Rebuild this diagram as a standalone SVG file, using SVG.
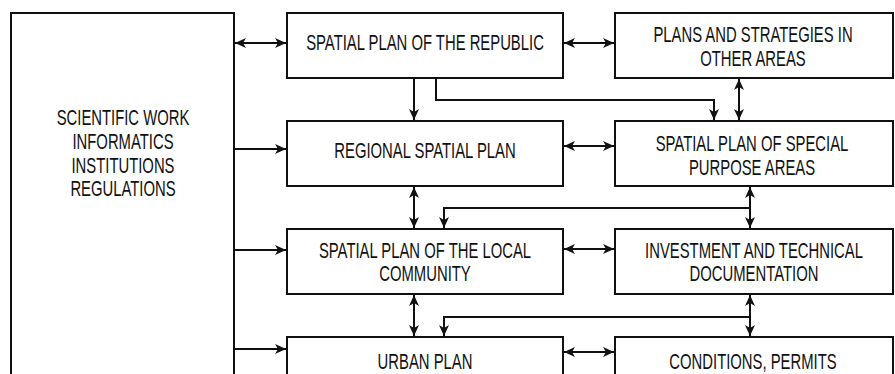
<svg xmlns="http://www.w3.org/2000/svg" width="895" height="374" viewBox="0 0 895 374">
<style>
.box{fill:#fff;stroke:#111;stroke-width:2}
.t{font-family:"Liberation Sans",Arial,sans-serif;font-size:22px;fill:#111;text-anchor:middle}
.c{fill:none;stroke:#111;stroke-width:2}
.a{marker-end:url(#ah)}
.d{marker-start:url(#ah);marker-end:url(#ah)}
</style>
<defs>
<marker id="ah" viewBox="0 0 11 11" refX="11" refY="5.5" markerWidth="11" markerHeight="11" markerUnits="userSpaceOnUse" orient="auto-start-reverse">
<path d="M0,0.5 L11,5.5 L0,10.5 L3,5.5 Z" fill="#111"/>
</marker>
</defs>
<rect width="895" height="374" fill="#fff"/>
<g id="n-left">
<rect class="box" x="11" y="13" width="223" height="380"/>
<g transform="translate(123,0) scale(0.675,1)">
<text class="t" x="0" y="125">SCIENTIFIC WORK</text>
<text class="t" x="0" y="149">INFORMATICS</text>
<text class="t" x="0" y="173">INSTITUTIONS</text>
<text class="t" x="0" y="196.5">REGULATIONS</text>
</g>
</g>
<g id="n-republic">
<rect class="box" x="287" y="13" width="276" height="65"/>
<text class="t" transform="translate(425,50) scale(0.675,1)">SPATIAL PLAN OF THE REPUBLIC</text>
</g>
<g id="n-other">
<rect class="box" x="615" y="13" width="278" height="65"/>
<g transform="translate(753,0) scale(0.675,1)">
<text class="t" x="0" y="42.5">PLANS AND STRATEGIES IN</text>
<text class="t" x="0" y="66">OTHER AREAS</text>
</g>
</g>
<g id="n-regional">
<rect class="box" x="287" y="121" width="276" height="65"/>
<text class="t" transform="translate(425,157.5) scale(0.675,1)">REGIONAL SPATIAL PLAN</text>
</g>
<g id="n-special">
<rect class="box" x="615" y="121" width="278" height="65"/>
<g transform="translate(752,0) scale(0.675,1)">
<text class="t" x="0" y="151">SPATIAL PLAN OF SPECIAL</text>
<text class="t" x="0" y="175">PURPOSE AREAS</text>
</g>
</g>
<g id="n-local">
<rect class="box" x="287" y="229" width="276" height="65"/>
<g transform="translate(425,0) scale(0.675,1)">
<text class="t" x="0" y="258">SPATIAL PLAN OF THE LOCAL</text>
<text class="t" x="0" y="281.5">COMMUNITY</text>
</g>
</g>
<g id="n-investment">
<rect class="box" x="615" y="229" width="278" height="65"/>
<g transform="translate(754,0) scale(0.675,1)">
<text class="t" x="0" y="258">INVESTMENT AND TECHNICAL</text>
<text class="t" x="0" y="281.5">DOCUMENTATION</text>
</g>
</g>
<g id="n-urban">
<rect class="box" x="287" y="337" width="276" height="65"/>
<text class="t" transform="translate(425,368.5) scale(0.675,1)">URBAN PLAN</text>
</g>
<g id="n-conditions">
<rect class="box" x="615" y="337" width="278" height="65"/>
<text class="t" transform="translate(753,368.5) scale(0.675,1)">CONDITIONS, PERMITS</text>
</g>
<g id="connectors">
<line class="c d" x1="235" y1="43" x2="286" y2="43"/>
<line class="c a" x1="235" y1="149" x2="286" y2="149"/>
<line class="c a" x1="235" y1="250" x2="286" y2="250"/>
<line class="c a" x1="235" y1="349" x2="286" y2="349"/>
<line class="c d" x1="564" y1="43" x2="614" y2="43"/>
<line class="c d" x1="564" y1="146" x2="614" y2="146"/>
<line class="c d" x1="564" y1="249" x2="614" y2="249"/>
<line class="c d" x1="564" y1="352" x2="614" y2="352"/>
<line class="c a" x1="414" y1="79" x2="414" y2="120"/>
<polyline class="c a" points="436,79 436,100 714,100 714,120"/>
<line class="c d" x1="739" y1="79" x2="739" y2="120"/>
<line class="c d" x1="414" y1="187" x2="414" y2="228"/>
<line class="c d" x1="750" y1="187" x2="750" y2="228"/>
<polyline class="c a" points="750,208 444,208 444,228"/>
<line class="c d" x1="414" y1="295" x2="414" y2="336"/>
<line class="c d" x1="750" y1="295" x2="750" y2="336"/>
<polyline class="c a" points="750,317 444,317 444,336"/>
</g>
</svg>
